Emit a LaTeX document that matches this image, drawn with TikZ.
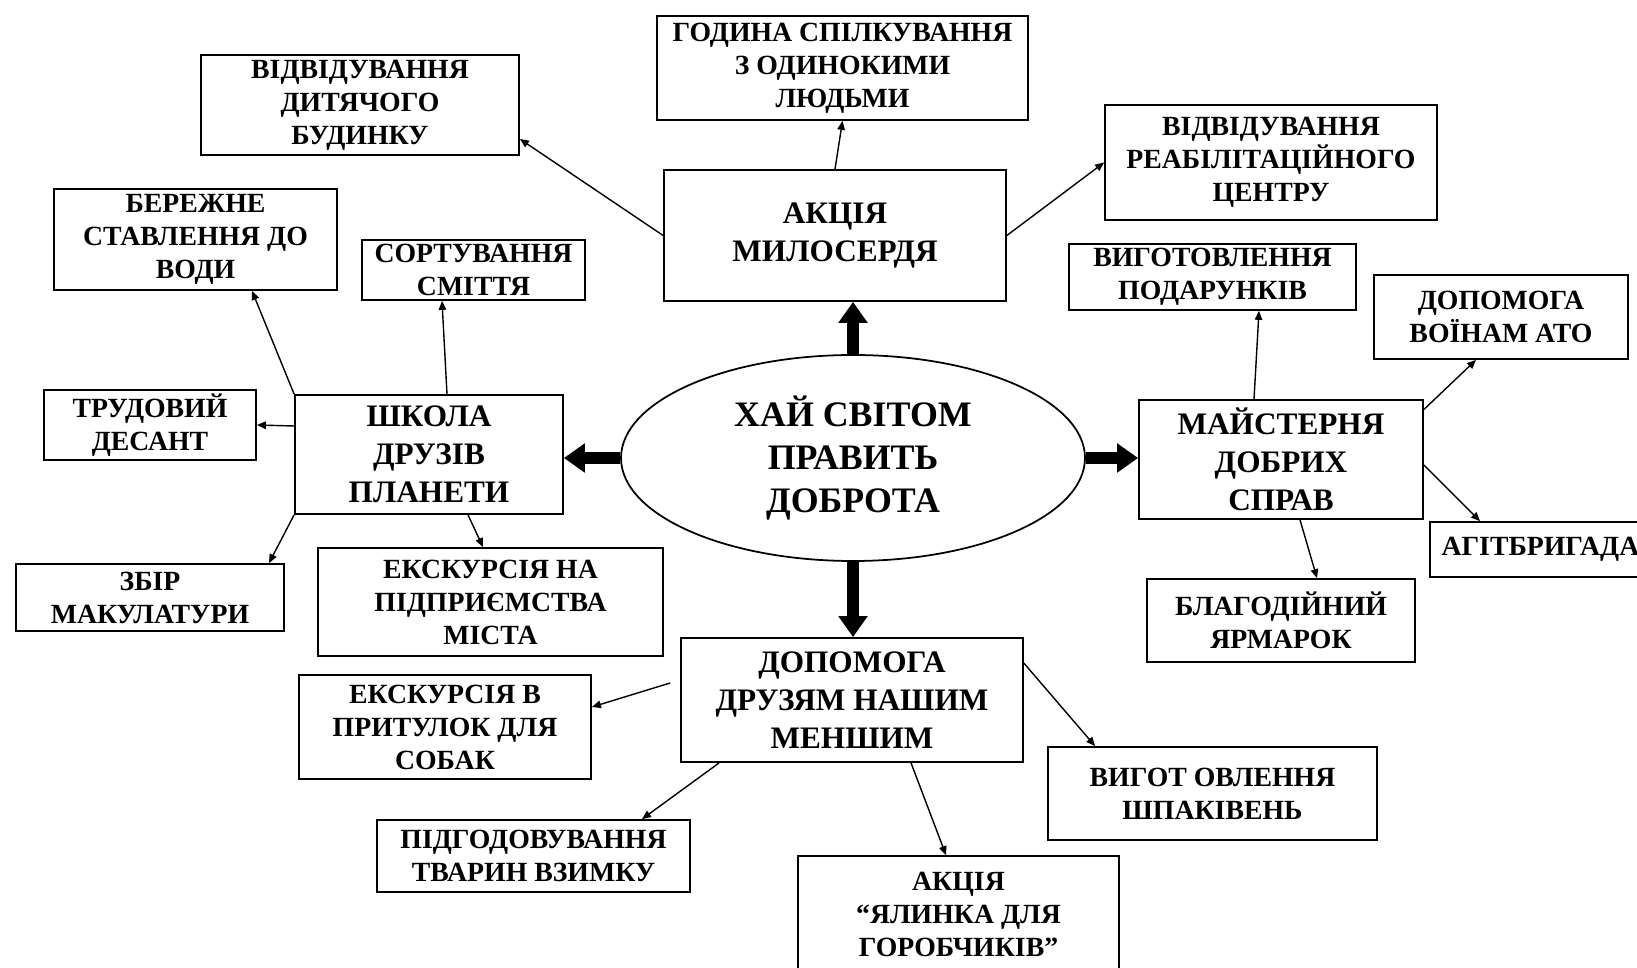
\documentclass[tikz,border=0pt]{standalone}
\usepackage{fontspec}
\setmainfont{Liberation Serif}
\usetikzlibrary{arrows.meta,positioning,shapes.geometric,calc}

\begin{document}
\begin{tikzpicture}[
    box/.style={draw, line width=0.5pt, fill=white, align=center, inner sep=1pt, font=\fontsize{7.9}{9.4}\selectfont\bfseries},
    mainbox/.style={box, font=\fontsize{8.9}{10.8}\selectfont\bfseries},
    hub/.style={draw, ellipse, line width=0.5pt, align=center, inner sep=0pt, font=\fontsize{10.2}{12.2}\selectfont\bfseries},
    arrow/.style={-{Triangle[length=0.9mm, width=0.75mm]}, line width=0.4pt},
    bigarrow/.style={-{Triangle[length=2.1mm, width=2.8mm]}, line width=1.15mm}
]
\useasboundingbox (0,0) rectangle (16.37,-9.68);
\fill[white] (0,0) rectangle (16.37,-9.68);

% Centre
\node[hub, minimum width=4.64cm, minimum height=2.06cm] (ell) at (8.53,-4.58) {ХАЙ СВІТОМ\\ПРАВИТЬ\\ДОБРОТА};

% Main directions
\node[mainbox, minimum width=3.42cm, minimum height=1.31cm] (mil) at (8.35,-2.355) {АКЦІЯ\\МИЛОСЕРДЯ};
\node[mainbox, minimum width=2.68cm, minimum height=1.19cm] (shk) at (4.29,-4.545) {ШКОЛА\\ДРУЗІВ\\ПЛАНЕТИ};
\node[mainbox, minimum width=2.84cm, minimum height=1.19cm] (mai) at (12.81,-4.595) {МАЙСТЕРНЯ\\ДОБРИХ\\СПРАВ};
\node[mainbox, minimum width=3.42cm, minimum height=1.24cm] (dop) at (8.52,-7.00) {ДОПОМОГА\\ДРУЗЯМ НАШИМ\\МЕНШИМ};

\draw[bigarrow] (ell.north) -- (ell.north |- mil.south);
\draw[bigarrow] (ell.west) -- (ell.west -| shk.east);
\draw[bigarrow] (ell.east) -- (ell.east -| mai.west);
\draw[bigarrow] (ell.south) -- (ell.south |- dop.north);

% Акція милосердя
\node[box, minimum width=3.18cm, minimum height=1.00cm] (dyt) at (3.60,-1.05) {ВІДВІДУВАННЯ\\ДИТЯЧОГО\\БУДИНКУ};
\node[box, minimum width=3.71cm, minimum height=1.04cm] (hod) at (8.425,-0.68) {ГОДИНА СПІЛКУВАННЯ\\З ОДИНОКИМИ\\ЛЮДЬМИ};
\node[box, minimum width=3.32cm, minimum height=1.15cm] (reab) at (12.71,-1.625) {ВІДВІДУВАННЯ\\РЕАБІЛІТАЦІЙНОГО\\ЦЕНТРУ};

\draw[arrow] (mil.west) -- ([yshift=-3.4mm]dyt.east);
\draw[arrow] (mil.north) -- (hod.south);
\draw[arrow] (mil.east) -- (reab.west);

% Школа друзів планети
\node[box, minimum width=2.83cm, minimum height=1.01cm] (ber) at (1.955,-2.395) {БЕРЕЖНЕ\\СТАВЛЕННЯ ДО\\ВОДИ};
\node[box, minimum width=2.23cm, minimum height=0.60cm] (sort) at (4.735,-2.70) {СОРТУВАННЯ\\СМІТТЯ};
\node[box, minimum width=2.12cm, minimum height=0.66cm] (trud) at (1.50,-4.25) {ТРУДОВИЙ\\ДЕСАНТ};
\node[box, minimum width=2.68cm, minimum height=0.67cm] (zbir) at (1.50,-5.975) {ЗБІР\\МАКУЛАТУРИ};
\node[box, minimum width=3.45cm, minimum height=1.08cm] (eksna) at (4.905,-6.02) {ЕКСКУРСІЯ НА\\ПІДПРИЄМСТВА\\МІСТА};

\draw[arrow] (shk.north west) -- ([xshift=5.65mm]ber.south);
\draw[arrow] ([xshift=1.8mm]shk.north) -- ([xshift=-3.15mm]sort.south);
\draw[arrow] ([yshift=2.85mm]shk.west) -- (trud.east);
\draw[arrow] (shk.south west) -- ([xshift=11.9mm]zbir.north);
\draw[arrow] ([xshift=3.9mm]shk.south) -- ([xshift=-0.75mm]eksna.north);

% Майстерня добрих справ
\node[box, minimum width=2.87cm, minimum height=0.66cm] (pod) at (12.125,-2.77) {ВИГОТОВЛЕННЯ\\ПОДАРУНКІВ};
\node[box, minimum width=2.54cm, minimum height=0.84cm] (ato) at (15.01,-3.17) {ДОПОМОГА\\ВОЇНАМ АТО};
\node[box, minimum width=2.21cm, minimum height=0.55cm, anchor=west] (agit) at (14.29,-5.495) {АГІТБРИГАДА};
\node[box, minimum width=2.68cm, minimum height=0.83cm] (blag) at (12.81,-6.205) {БЛАГОДІЙНИЙ\\ЯРМАРОК};

\draw[arrow] ([xshift=-2.7mm]mai.north) -- ([xshift=4.65mm]pod.south);
\draw[arrow] ([yshift=5mm]mai.east) -- ([xshift=-2.5mm]ato.south);
\draw[arrow] ([yshift=-0.55mm]mai.east) -- ([xshift=5.1mm]agit.north west);
\draw[arrow] ([xshift=1.9mm]mai.south) -- ([xshift=3.6mm]blag.north);

% Допомога друзям нашим меншим
\node[box, minimum width=2.92cm, minimum height=1.04cm] (prit) at (4.45,-7.27) {ЕКСКУРСІЯ В\\ПРИТУЛОК ДЛЯ\\СОБАК};
\node[box, minimum width=3.13cm, minimum height=0.72cm] (pidg) at (5.335,-8.56) {ПІДГОДОВУВАННЯ\\ТВАРИН ВЗИМКУ};
\node[box, minimum width=3.21cm, minimum height=1.17cm] (yal) at (9.585,-9.145) {АКЦІЯ\\“ЯЛИНКА ДЛЯ\\ГОРОБЧИКІВ”};
\node[box, minimum width=3.29cm, minimum height=0.93cm] (shpak) at (12.125,-7.935) {ВИГОТ ОВЛЕННЯ\\ШПАКІВЕНЬ};

\draw[arrow] ([xshift=-1mm, yshift=1.7mm]dop.west) -- ([yshift=2mm]prit.east);
\draw[arrow] ([xshift=3.9mm]dop.south west) -- ([xshift=10.85mm]pidg.north);
\draw[arrow] ([xshift=5.9mm]dop.south) -- ([xshift=-1.25mm]yal.north);
\draw[arrow] ([yshift=-2.6mm]dop.north east) -- ([xshift=4.8mm]shpak.north west);
\end{tikzpicture}
\end{document}
